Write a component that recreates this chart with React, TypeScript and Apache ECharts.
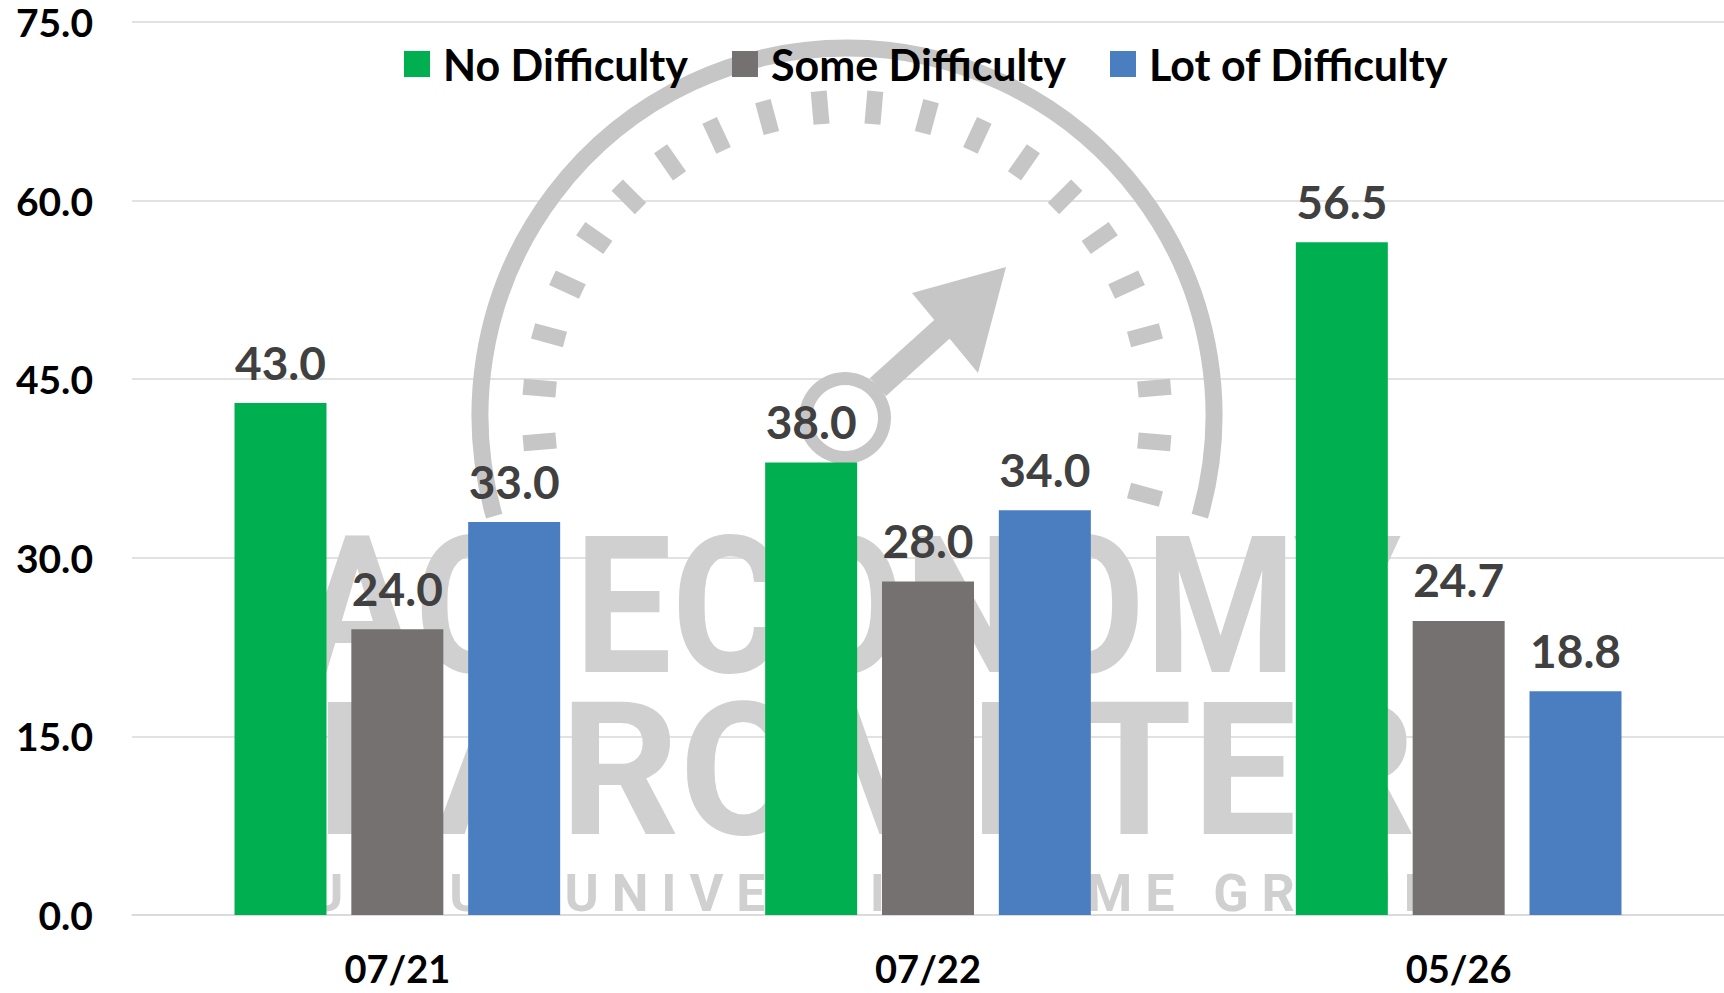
import React, { useEffect, useRef } from "react";
import * as echarts from "echarts";

const categories = ["07/21", "07/22", "05/26"];
const seriesNames = ["No Difficulty", "Some Difficulty", "Lot of Difficulty"];
const noDifficulty = [43.0, 38.0, 56.5];
const someDifficulty = [24.0, 28.0, 24.7];
const lotOfDifficulty = [33.0, 34.0, 18.8];
const seriesColors = ["#00B050", "#767171", "#4A7EC0"];
const yMin = 0;
const yMax = 75;
const yInterval = 15;

const FONT = "Lato";
const WM = "#c6c6c6";
const WM_TEXT = "#d0d0d0";

function watermark(): any[] {
  const els: any[] = [];
  const cx = 847;
  const cy = 415;
  // outer arc of the gauge
  els.push({
    type: "arc",
    z: 1,
    silent: true,
    shape: { cx, cy, r: 367, startAngle: (164 * Math.PI) / 180, endAngle: (16 * Math.PI) / 180, clockwise: true },
    style: { stroke: WM, lineWidth: 17, fill: "none" },
  });
  // gauge dashes
  for (let a = 175; a <= 375; a += 10) {
    const rad = (a * Math.PI) / 180;
    const r1 = 292;
    const r2 = 325;
    els.push({
      type: "line",
      z: 1,
      silent: true,
      shape: {
        x1: cx + r1 * Math.cos(rad),
        y1: cy + r1 * Math.sin(rad),
        x2: cx + r2 * Math.cos(rad),
        y2: cy + r2 * Math.sin(rad),
      },
      style: { stroke: WM, lineWidth: 16 },
    });
  }
  // needle
  els.push({
    type: "ring",
    z: 1,
    silent: true,
    shape: { cx: 845, cy: 418, r: 46, r0: 33 },
    style: { fill: WM },
  });
  els.push({
    type: "line",
    z: 1,
    silent: true,
    shape: { x1: 878, y1: 387, x2: 950, y2: 322 },
    style: { stroke: WM, lineWidth: 24 },
  });
  els.push({
    type: "polygon",
    z: 1,
    silent: true,
    shape: { points: [[1006, 267], [978, 373], [912, 293]] },
    style: { fill: WM },
  });
  // brand text
  els.push({
    type: "text",
    z: 1,
    silent: true,
    x: 850,
    y: 607,
    scaleX: 0.9,
    style: { text: "AG ECONOMY", fontFamily: "Roboto", fontWeight: "bold", fontSize: 192, fill: WM_TEXT, align: "center", verticalAlign: "middle" },
  });
  els.push({
    type: "text",
    z: 1,
    silent: true,
    x: 866,
    y: 770,
    scaleX: 1.0,
    style: { text: "BAROMETER", fontFamily: "Roboto", fontWeight: "bold", fontSize: 186, fill: WM_TEXT, align: "center", verticalAlign: "middle" },
  });
  els.push({
    type: "text",
    z: 1,
    silent: true,
    x: 850,
    y: 893,
    scaleX: 1.0,
    style: {
      text: "P U R D U E   U N I V E R S I T Y  ·  C M E   G R O U P",
      fontFamily: "Roboto",
      fontWeight: "bold",
      fontSize: 52,
      fill: WM_TEXT,
      align: "center",
      verticalAlign: "middle",
    },
  });
  return els;
}

export default function App() {
  const ref = useRef<HTMLDivElement>(null);

  useEffect(() => {
    if (!ref.current) return;
    const chart = echarts.init(ref.current, undefined, { renderer: "svg" });
    const values = [noDifficulty, someDifficulty, lotOfDifficulty];
    chart.setOption({
      animation: false,
      backgroundColor: "#ffffff",
      textStyle: { fontFamily: FONT },
      graphic: watermark(),
      legend: {
        data: seriesNames,
        left: 399,
        top: 34,
        itemWidth: 26,
        itemHeight: 26,
        itemGap: 44,
        icon: "rect",
        textStyle: {
          fontFamily: FONT,
          fontWeight: "bold",
          fontSize: 43,
          color: "#000000",
          lineHeight: 50,
          padding: [0, 0, 0, 8],
        },
      },
      grid: { left: 132, right: 0, top: 22, bottom: 78, containLabel: false },
      xAxis: {
        type: "category",
        data: categories,
        axisTick: { show: false },
        axisLine: { show: true, lineStyle: { color: "#d9d9d9", width: 1.5 } },
        axisLabel: { fontFamily: FONT, fontWeight: "bold", fontSize: 38, color: "#000000", margin: 34 },
      },
      yAxis: {
        type: "value",
        min: yMin,
        max: yMax,
        interval: yInterval,
        axisLine: { show: false },
        axisTick: { show: false },
        splitLine: { lineStyle: { color: "#d9d9d9", width: 1.5 } },
        axisLabel: {
          fontFamily: FONT,
          fontWeight: "bold",
          fontSize: 39,
          color: "#000000",
          margin: 39,
          formatter: (v: number) => v.toFixed(1),
        },
      },
      series: seriesNames.map((name, i) => ({
        name,
        type: "bar",
        data: values[i],
        barWidth: 92,
        barGap: "27%",
        z: 2,
        itemStyle: { color: seriesColors[i] },
        label: {
          show: true,
          position: "top",
          distance: 18,
          fontFamily: FONT,
          fontWeight: "bold",
          fontSize: 46,
          color: "#404040",
          formatter: (p: any) => Number(p.value).toFixed(1),
        },
      })),
    });
    return () => chart.dispose();
  }, []);

  return (
    <div
      ref={ref}
      style={{ position: "fixed", left: 0, top: 0, width: 1724, height: 993, background: "#fff" }}
    />
  );
}
